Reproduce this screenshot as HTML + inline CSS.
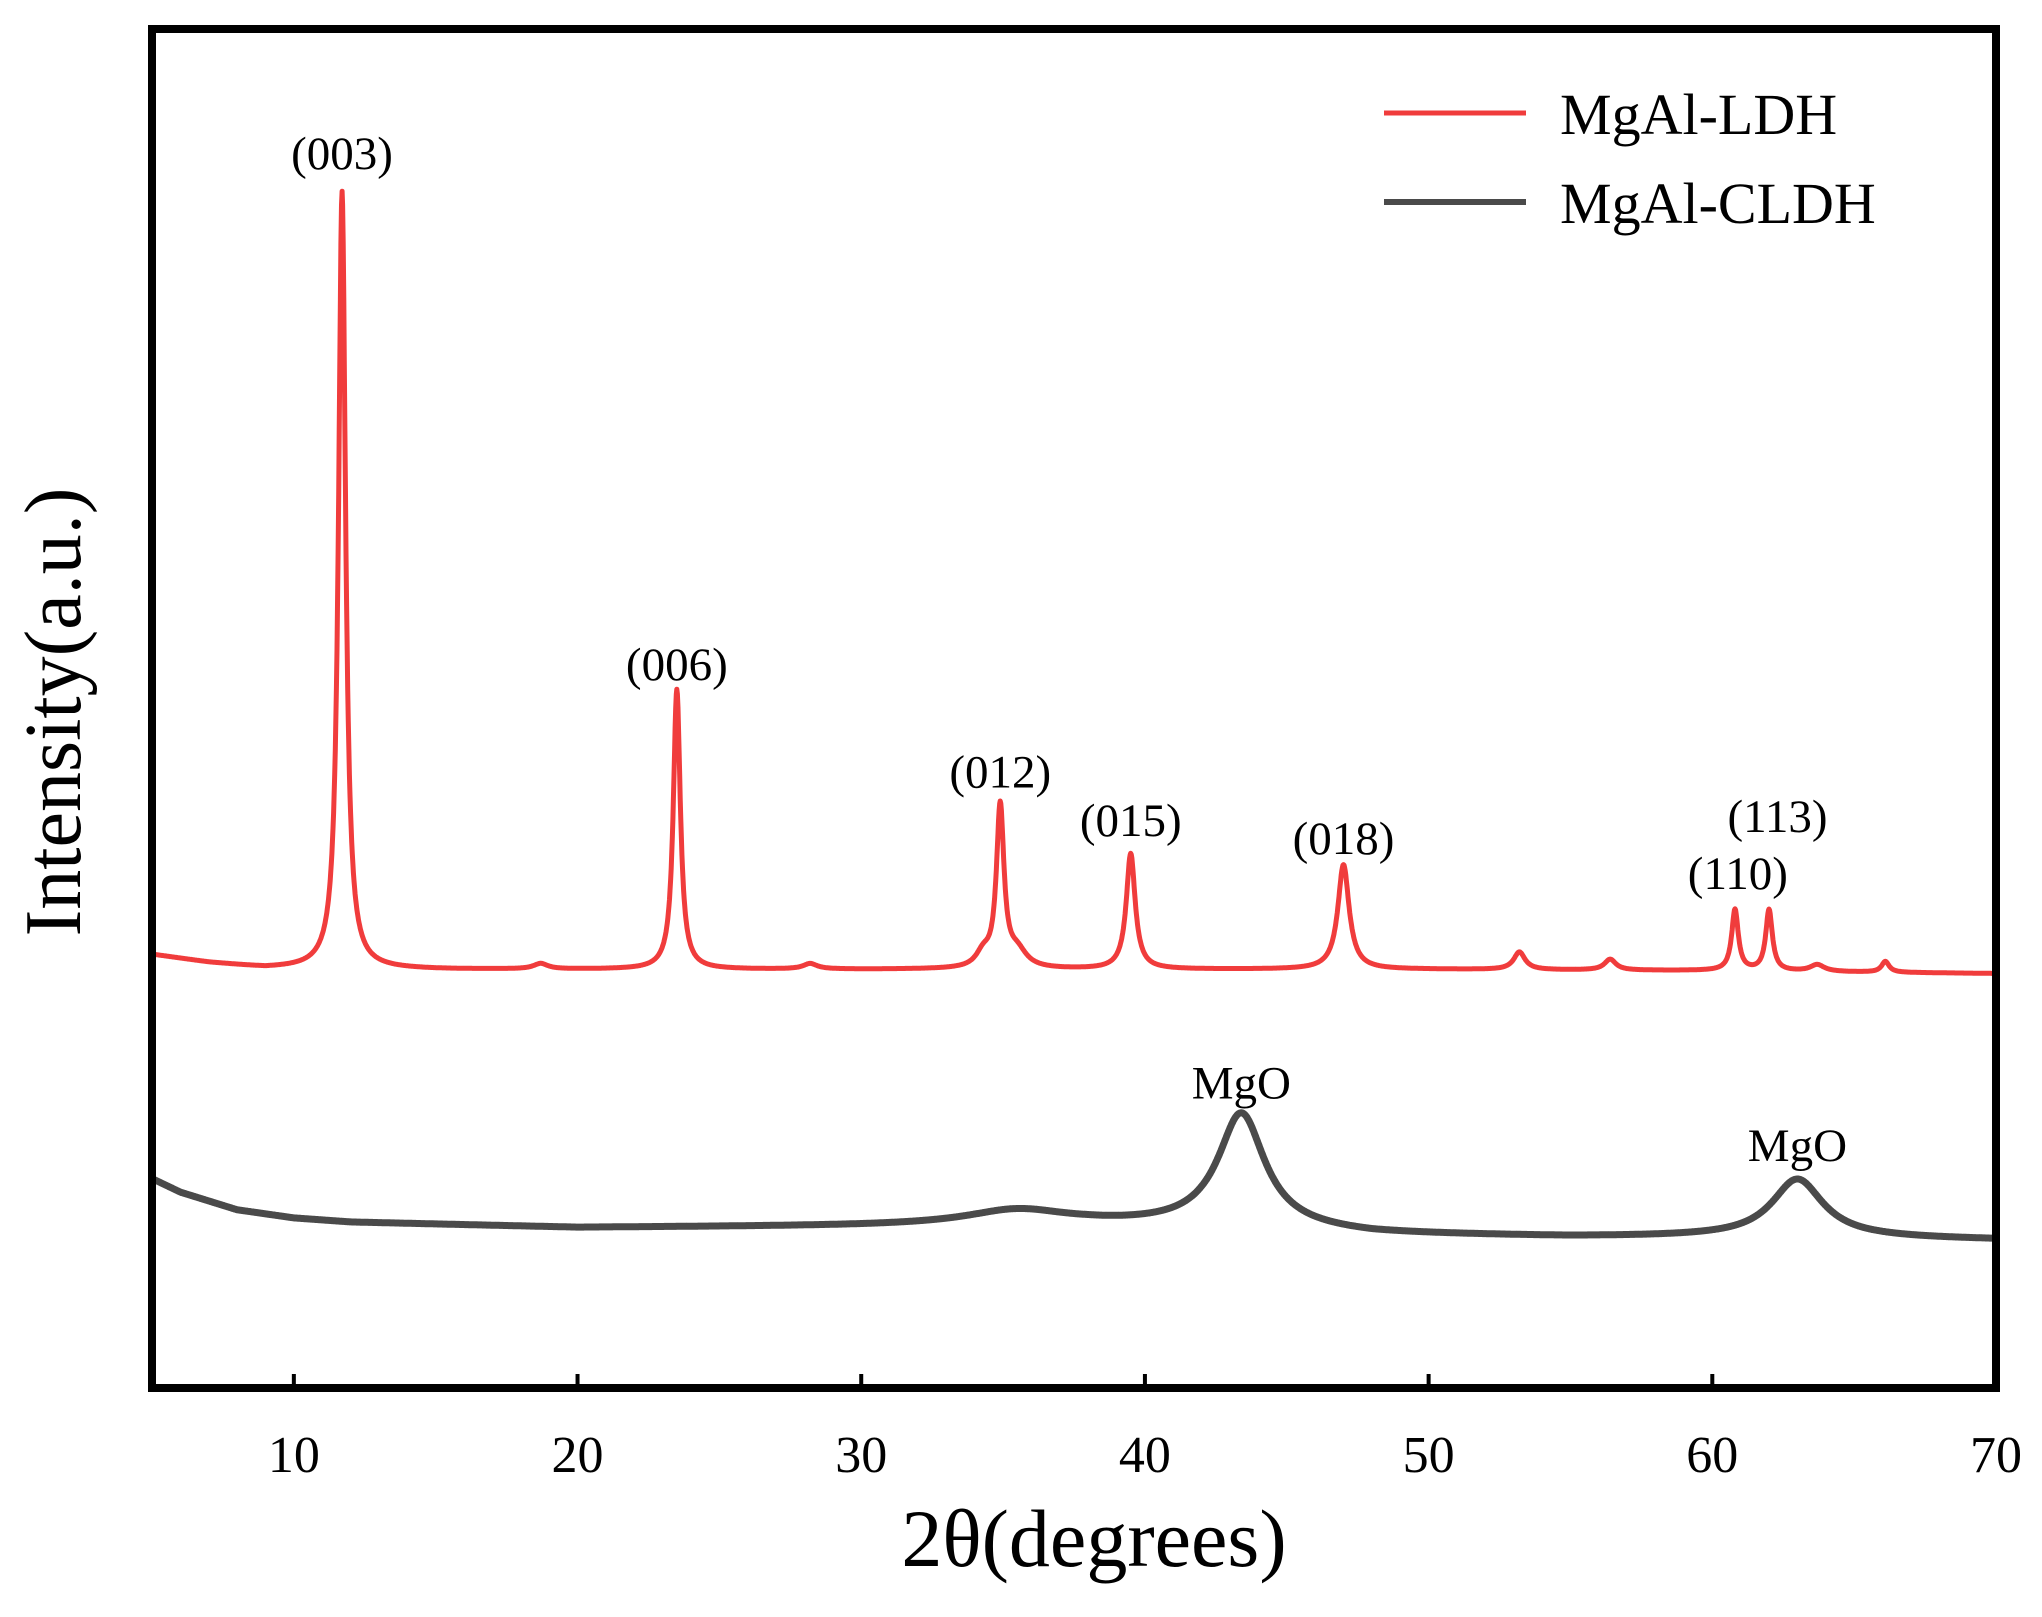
<!DOCTYPE html>
<html><head><meta charset="utf-8">
<style>
html,body{margin:0;padding:0;background:#fff;}
svg{display:block;}
text{font-family:"Liberation Serif",serif;fill:#000;}
</style></head>
<body>
<svg id="chart" width="2042" height="1617" viewBox="0 0 2042 1617">
<g id="series"></g>
<rect x="152" y="29" width="1844" height="1359" fill="none" stroke="#000" stroke-width="8"/>
<g id="ticks"></g>
<g id="labels"></g>
<text x="1094" y="1566" font-size="82" text-anchor="middle">2θ(degrees)</text>
<text transform="translate(80,712) rotate(-90)" font-size="80" text-anchor="middle">Intensity(a.u.)</text>
<g>
<line x1="1384" y1="113" x2="1526" y2="113" stroke="#f03c3c" stroke-width="5"/>
<text x="1560" y="134" font-size="58">MgAl-LDH</text>
<line x1="1384" y1="202" x2="1526" y2="202" stroke="#4a4a4a" stroke-width="6"/>
<text x="1560" y="223" font-size="58">MgAl-CLDH</text>
</g>
</svg>
<script>
// Axis domain
const xDomain = [5, 70];
const yDomain = [0, 1000];
const xTicks = [10, 20, 30, 40, 50, 60, 70];
// MgAl-LDH peaks (2θ, height above baseline, half-width)
const ldhPos = [11.7, 23.5, 34.9, 35.5, 39.5, 47.0, 53.2, 56.4, 60.8, 62.0, 63.7, 66.1, 18.7, 28.2, 34.3];
const ldhHeight = [572, 206, 118, 12, 85, 77, 13, 8, 45, 45, 5, 8, 4, 4, 10];
const ldhWidth = [0.15, 0.15, 0.16, 0.4, 0.19, 0.24, 0.24, 0.24, 0.14, 0.14, 0.3, 0.16, 0.3, 0.3, 0.3];
// LDH baseline knots
const ldhBaseX = [5, 7, 9, 15, 30, 40, 50, 60, 70];
const ldhBaseY = [319, 313, 309, 308, 308, 308, 308, 307, 305];
// MgAl-CLDH peaks
const cldhPos = [43.4, 63.0, 35.5];
const cldhHeight = [84, 43, 11];
const cldhWidth = [1.0, 1.1, 2.2];
// CLDH baseline knots
const cldhBaseX = [5, 6, 8, 10, 12, 20, 30, 38, 42, 48, 55, 60, 66, 70];
const cldhBaseY = [154, 144, 131, 125, 122, 118, 119, 120, 119, 113, 111, 111, 110, 109];
// Annotations
const labelText = ["(003)", "(006)", "(012)", "(015)", "(018)", "(110)", "(113)", "MgO", "MgO"];
const labelX = [11.7, 23.5, 34.9, 39.5, 47.0, 60.9, 62.3, 43.4, 63.0];
const labelY = [897, 521, 442, 406, 393, 367, 409, 213, 167];

const L=152,R=1996,T=29,B=1388;
const xs = v => L + (v - xDomain[0]) / (xDomain[1] - xDomain[0]) * (R - L);
const ys = v => B - (v - yDomain[0]) / (yDomain[1] - yDomain[0]) * (B - T);
function interp(xa, ya, x){
  for(let i=0;i<xa.length-1;i++){ if(x<=xa[i+1]){const t=(x-xa[i])/(xa[i+1]-xa[i]);return ya[i]+t*(ya[i+1]-ya[i]);} }
  return ya[ya.length-1];
}
function curve(bx,by,pos,h,w,x){
  let y=interp(bx,by,x);
  for(let i=0;i<pos.length;i++){const d=(x-pos[i])/w[i];y+=h[i]/(1+d*d);}
  return y;
}
const NS="http://www.w3.org/2000/svg";
const sg=document.getElementById('series');
function drawSeries(bx,by,pos,h,w,color,sw,name){
  let d="";
  for(let x=xDomain[0];x<=xDomain[1]+1e-9;x+=0.02){
    d+=(d?"L":"M")+xs(x).toFixed(1)+","+ys(curve(bx,by,pos,h,w,x)).toFixed(1);
  }
  const p=document.createElementNS(NS,'path');
  p.setAttribute('d',d);p.setAttribute('fill','none');p.setAttribute('stroke',color);
  p.setAttribute('stroke-width',sw);p.setAttribute('stroke-linejoin','round');
  
  
  sg.appendChild(p);
}
drawSeries(ldhBaseX,ldhBaseY,ldhPos,ldhHeight,ldhWidth,'#f03c3c',5,'mgal-ldh-line');
drawSeries(cldhBaseX,cldhBaseY,cldhPos,cldhHeight,cldhWidth,'#4a4a4a',7,'mgal-cldh-line');
const tg=document.getElementById('ticks');
xTicks.forEach(t=>{
  const l=document.createElementNS(NS,'line');
  l.setAttribute('x1',xs(t));l.setAttribute('x2',xs(t));l.setAttribute('y1',B);l.setAttribute('y2',B-14);
  l.setAttribute('stroke','#000');l.setAttribute('stroke-width',4);
  
  
  tg.appendChild(l);
  const tx=document.createElementNS(NS,'text');
  tx.setAttribute('x',xs(t));tx.setAttribute('y',1472);tx.setAttribute('font-size',52);
  tx.setAttribute('text-anchor','middle');tx.textContent=t;
  
  
  tg.appendChild(tx);
});
const lg=document.getElementById('labels');
labelText.forEach((s,i)=>{
  const tx=document.createElementNS(NS,'text');
  tx.setAttribute('x',xs(labelX[i]));tx.setAttribute('y',ys(labelY[i]));
  tx.setAttribute('font-size',47);tx.setAttribute('text-anchor','middle');tx.textContent=s;
  
  
  lg.appendChild(tx);
});
</script>
</body></html>
